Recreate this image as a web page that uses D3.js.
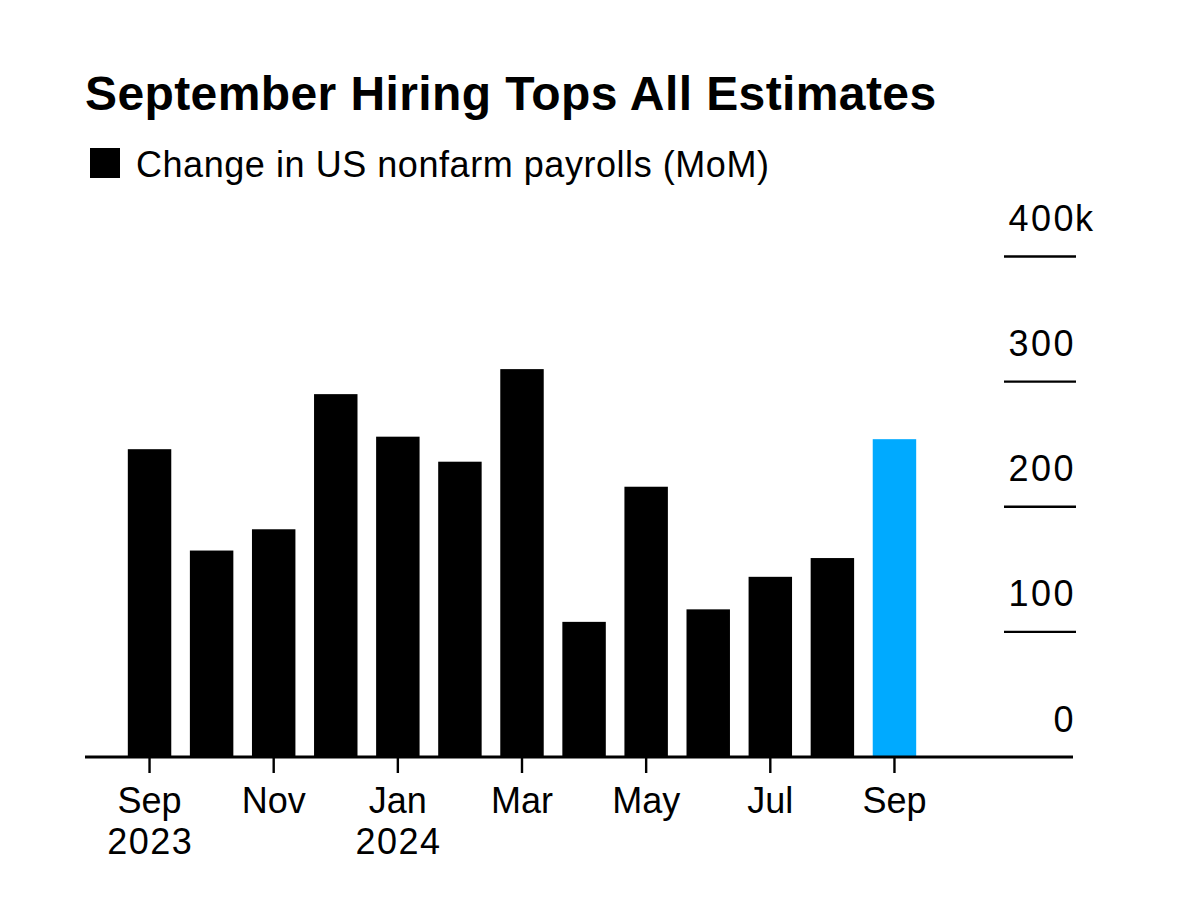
<!DOCTYPE html>
<html>
<head>
<meta charset="utf-8">
<script src="https://cdn.jsdelivr.net/npm/d3@7"></script>
<style>
  html, body { margin: 0; padding: 0; background: #ffffff; }
  svg { display: block; }
  text { font-family: "Liberation Sans", Arial, Helvetica, sans-serif; fill: #000; }
</style>
</head>
<body>
<svg id="chart" width="1179" height="899"></svg>
<script>
// ---- data ----
const months = ["Sep 2023","Oct 2023","Nov 2023","Dec 2023","Jan 2024","Feb 2024","Mar 2024",
                "Apr 2024","May 2024","Jun 2024","Jul 2024","Aug 2024","Sep 2024"];
const payrolls = [246, 165, 182, 290, 256, 236, 310, 108, 216, 118, 144, 159, 254];
const highlightMonth = "Sep 2024";

const xTickMonths = ["Sep 2023","Nov 2023","Jan 2024","Mar 2024","May 2024","Jul 2024","Sep 2024"];
const xTickLine1  = ["Sep","Nov","Jan","Mar","May","Jul","Sep"];
const xTickLine2  = ["2023","","2024","","","",""];

const yTicks      = [0, 100, 200, 300, 400];
const yTickLabels = ["0", "100", "200", "300", "400"];
const yTopSuffix  = "k";

const titleText  = "September Hiring Tops All Estimates";
const legendText = "Change in US nonfarm payrolls (MoM)";

// ---- layout ----
const svg = d3.select("#chart");
const baseY = 757, topY = 256.5;

const x = d3.scaleBand()
  .domain(months)
  .range([118.5, 925.5])
  .paddingInner(0.3)
  .paddingOuter(0.15);

const y = d3.scaleLinear().domain([0, 400]).range([baseY, topY]);

// title
svg.append("text")
  .attr("x", 85).attr("y", 110)
  .attr("font-size", 48).attr("font-weight", 700)
  .attr("letter-spacing", "0.4")
  .text(titleText);

// legend
svg.append("rect")
  .attr("x", 90).attr("y", 148).attr("width", 30).attr("height", 30)
  .attr("fill", "#000");
svg.append("text")
  .attr("x", 136).attr("y", 177)
  .attr("font-size", 36)
  .attr("letter-spacing", "0.55")
  .text(legendText);

// y gridlines (right side, short) and labels
const yg = svg.append("g");
yg.selectAll("line.grid")
  .data(yTicks.filter(d => d > 0))
  .join("line")
  .attr("class", "grid")
  .attr("x1", 1004).attr("x2", 1076)
  .attr("y1", d => y(d)).attr("y2", d => y(d))
  .attr("stroke", "#000").attr("stroke-width", 2.4);

yg.selectAll("text.ylab")
  .data(yTicks)
  .join("text")
  .attr("class", "ylab")
  .attr("x", 1076)
  .attr("y", d => y(d) - 25.5)
  .attr("text-anchor", "end")
  .attr("font-size", 36)
  .attr("letter-spacing", "2.5")
  .text((d, i) => yTickLabels[i]);

yg.append("text")
  .attr("x", 1075)
  .attr("y", y(yTicks[yTicks.length - 1]) - 25.5)
  .attr("font-size", 36)
  .text(yTopSuffix);

// bars
svg.append("g").selectAll("rect")
  .data(months.map((m, i) => ({ m, v: payrolls[i] })))
  .join("rect")
  .attr("x", d => x(d.m))
  .attr("width", x.bandwidth())
  .attr("y", d => y(d.v))
  .attr("height", d => y(0) - y(d.v))
  .attr("fill", d => d.m === highlightMonth ? "#00aaff" : "#000");

// x axis
const xAxis = d3.axisBottom(x)
  .tickValues(xTickMonths)
  .tickSizeInner(16)
  .tickSizeOuter(0)
  .tickPadding(14)
  .tickFormat(() => "");

const gx = svg.append("g")
  .attr("transform", `translate(0,${baseY})`)
  .call(xAxis);
gx.select(".domain").remove();
gx.selectAll(".tick line").attr("stroke", "#000").attr("stroke-width", 2.4);
gx.selectAll(".tick text").remove();

gx.selectAll(".tick").each(function(d) {
  const i = xTickMonths.indexOf(d);
  const g = d3.select(this);
  g.append("text")
    .attr("text-anchor", "middle")
    .attr("font-size", 36)
    .attr("x", 0).attr("y", 56)
    .text(xTickLine1[i]);
  if (xTickLine2[i]) {
    g.append("text")
      .attr("text-anchor", "middle")
      .attr("font-size", 36)
      .attr("letter-spacing", "1.5")
      .attr("x", 0.75).attr("y", 97)
      .text(xTickLine2[i]);
  }
});

// baseline
svg.append("line")
  .attr("x1", 85).attr("x2", 1073)
  .attr("y1", baseY).attr("y2", baseY)
  .attr("stroke", "#000").attr("stroke-width", 3);
</script>
</body>
</html>
